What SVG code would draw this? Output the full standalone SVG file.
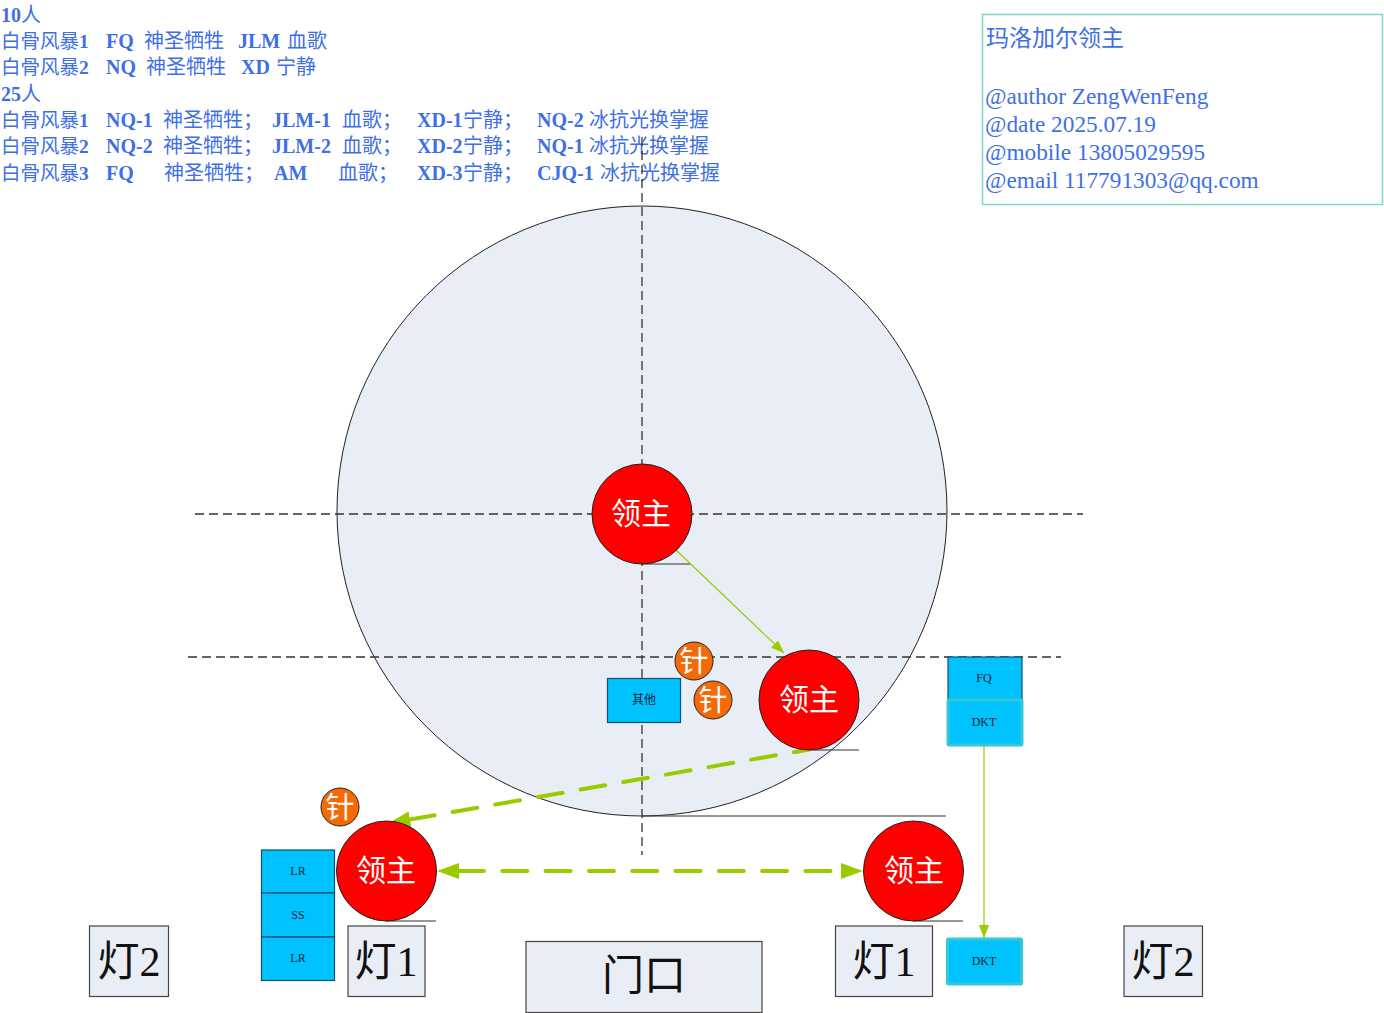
<svg xmlns="http://www.w3.org/2000/svg" width="1384" height="1013" viewBox="0 0 1384 1013">
<style>
text{font-family:"Liberation Serif","Noto Sans CJK SC",serif}
.hdr{font-size:20px;fill:#3f6fe6}
.b{font-weight:bold}
.l{font-size:19.500px}
.info{font-size:23.300px;fill:#3f6fe6}
.title{font-size:23px}
.boss{fill:#ff0000;stroke:#222;stroke-width:1}
.bt{font-size:30px;fill:#fff;text-anchor:middle}
.pin{fill:#f56a05;stroke:#222;stroke-width:1}
.pt{font-size:29px;fill:#fff;text-anchor:middle}
.blue{fill:#00c2ff;stroke:#10506e;stroke-width:1.200}
.dk{fill:#00c2ff;stroke:#36c8d4;stroke-width:3}
.st{font-size:12px;fill:#123;text-anchor:middle}
.lamp{fill:#e8edf6;stroke:#444;stroke-width:1.200}
.lt{font-size:42px;fill:#111;text-anchor:middle}
.dash{fill:none;stroke:#333;stroke-width:1.300;stroke-dasharray:9 5}
.thin{fill:none;stroke:#333;stroke-width:1.200}
.gt{fill:none;stroke:#99cc00;stroke-width:1.200}
.gd{fill:none;stroke:#99cc00;stroke-width:4;stroke-linecap:round;stroke-dasharray:25 18.300}
</style>
<defs>
<marker id="a1" markerUnits="userSpaceOnUse" markerWidth="14" markerHeight="12" refX="13" refY="5" orient="auto"><path d="M0 0L13 5L0 10Z" fill="#99cc00"/></marker>
<marker id="a2" markerUnits="userSpaceOnUse" markerWidth="24" markerHeight="18" refX="0" refY="8" orient="auto-start-reverse"><path d="M0 0L22 8L0 16Z" fill="#99cc00"/></marker>
</defs>
<g id="arena"><circle cx="642" cy="511" r="305" fill="#e8edf6" stroke="#222" stroke-width="1"/></g>
<g id="header">
<text class="hdr" y="22"><tspan x="1" class="b">10</tspan><tspan>人</tspan></text>
<text class="hdr" y="48"><tspan x="1" class="l">白骨风暴</tspan><tspan class="b l">1</tspan><tspan x="106" class="b">FQ</tspan><tspan x="144">神圣牺牲</tspan><tspan x="238" class="b">JLM</tspan><tspan x="287">血歌</tspan></text>
<text class="hdr" y="74"><tspan x="1" class="l">白骨风暴</tspan><tspan class="b l">2</tspan><tspan x="106" class="b">NQ</tspan><tspan x="146">神圣牺牲</tspan><tspan x="241" class="b">XD</tspan><tspan x="276">宁静</tspan></text>
<text class="hdr" y="101"><tspan x="1" class="b">25</tspan><tspan>人</tspan></text>
<text class="hdr" y="127"><tspan x="1" class="l">白骨风暴</tspan><tspan class="b l">1</tspan><tspan x="106" class="b">NQ-1</tspan><tspan x="163">神圣牺牲；</tspan><tspan x="272" class="b">JLM-1</tspan><tspan x="342">血歌；</tspan><tspan x="417" class="b">XD-1</tspan><tspan x="463">宁静；</tspan><tspan x="537" class="b">NQ-2</tspan><tspan x="589">冰抗光换掌握</tspan></text>
<text class="hdr" y="153"><tspan x="1" class="l">白骨风暴</tspan><tspan class="b l">2</tspan><tspan x="106" class="b">NQ-2</tspan><tspan x="163">神圣牺牲；</tspan><tspan x="272" class="b">JLM-2</tspan><tspan x="342">血歌；</tspan><tspan x="417" class="b">XD-2</tspan><tspan x="463">宁静；</tspan><tspan x="537" class="b">NQ-1</tspan><tspan x="589">冰抗光换掌握</tspan></text>
<text class="hdr" y="180"><tspan x="1" class="l">白骨风暴</tspan><tspan class="b l">3</tspan><tspan x="106" class="b">FQ</tspan><tspan x="164">神圣牺牲；</tspan><tspan x="274" class="b">AM</tspan><tspan x="338">血歌；</tspan><tspan x="417" class="b">XD-3</tspan><tspan x="463">宁静；</tspan><tspan x="537" class="b">CJQ-1</tspan><tspan x="600">冰抗光换掌握</tspan></text>
</g>
<g id="info">
<rect x="982.500" y="14.500" width="400" height="190" fill="#fff" stroke="#7fd8d0" stroke-width="1.500"/>
<text class="info title" x="986" y="46">玛洛加尔领主</text>
<text class="info" x="985" y="104">@author ZengWenFeng</text>
<text class="info" x="985" y="132">@date 2025.07.19</text>
<text class="info" x="985" y="160">@mobile 13805029595</text>
<text class="info" x="985" y="188">@email 117791303@qq.com</text>
</g>
<g id="connectors">
<path class="dash" d="M642 137V855"/>
<path class="dash" d="M195 514H1083"/>
<path class="dash" d="M188 657H1061"/>
<path class="thin" d="M642 564H691M809 750H859M642 816H946M386 921H436M913 921H963"/>
<path class="gt" d="M676 550L784 653" marker-end="url(#a1)"/>
<path class="gt" d="M984 745V938" marker-end="url(#a1)"/>
<path class="gd" d="M410 819.500L809 749.500" marker-start="url(#a2)"/>
<path class="gd" d="M459 871H841" marker-start="url(#a2)" marker-end="url(#a2)"/>
</g>
<g id="boss-center"><circle class="boss" cx="642" cy="514" r="50"/><text class="bt" x="641" y="524">领主</text></g>
<g id="boss-right-mid"><circle class="boss" cx="809" cy="700" r="50"/><text class="bt" x="809" y="710">领主</text></g>
<g id="boss-left"><circle class="boss" cx="386.500" cy="871" r="50"/><text class="bt" x="386" y="881">领主</text></g>
<g id="boss-right"><circle class="boss" cx="913.500" cy="871" r="50"/><text class="bt" x="914" y="881">领主</text></g>
<g id="pin-1"><circle class="pin" cx="694" cy="661" r="19"/><text class="pt" x="694" y="672">针</text></g>
<g id="pin-2"><circle class="pin" cx="713" cy="700" r="19"/><text class="pt" x="713" y="711">针</text></g>
<g id="pin-3"><circle class="pin" cx="340" cy="807" r="19"/><text class="pt" x="340" y="818">针</text></g>
<g id="other"><rect class="blue" x="607.500" y="678.500" width="73" height="44"/><text class="st" x="644" y="704">其他</text></g>
<g id="lr-1"><rect class="blue" x="261.500" y="850" width="73" height="43"/><text class="st" x="298" y="875">LR</text></g>
<g id="ss"><rect class="blue" x="261.500" y="893" width="73" height="44"/><text class="st" x="298" y="919">SS</text></g>
<g id="lr-2"><rect class="blue" x="261.500" y="937" width="73" height="43.500"/><text class="st" x="298" y="962">LR</text></g>
<g id="fq"><rect class="blue" x="948" y="657" width="74" height="44"/><text class="st" x="984" y="682">FQ</text></g>
<g id="dkt-1"><rect class="dk" x="948" y="700" width="74" height="45" rx="1"/><text class="st" x="984" y="726">DKT</text></g>
<g id="dkt-2"><rect class="dk" x="947.500" y="939" width="74" height="45" rx="1"/><text class="st" x="984" y="965">DKT</text></g>
<g id="lamp2-left"><rect class="lamp" x="89.500" y="926" width="79" height="70.500"/><text class="lt" x="129" y="976">灯2</text></g>
<g id="lamp1-left"><rect class="lamp" x="348" y="926" width="77" height="70.500"/><text class="lt" x="386" y="976">灯1</text></g>
<g id="door"><rect class="lamp" x="526" y="941.500" width="236" height="71"/><text class="lt" x="644" y="990">门口</text></g>
<g id="lamp1-right"><rect class="lamp" x="835.500" y="926" width="97" height="70.500"/><text class="lt" x="884" y="976">灯1</text></g>
<g id="lamp2-right"><rect class="lamp" x="1124" y="926" width="78.500" height="70.500"/><text class="lt" x="1163" y="976">灯2</text></g>
</svg>
